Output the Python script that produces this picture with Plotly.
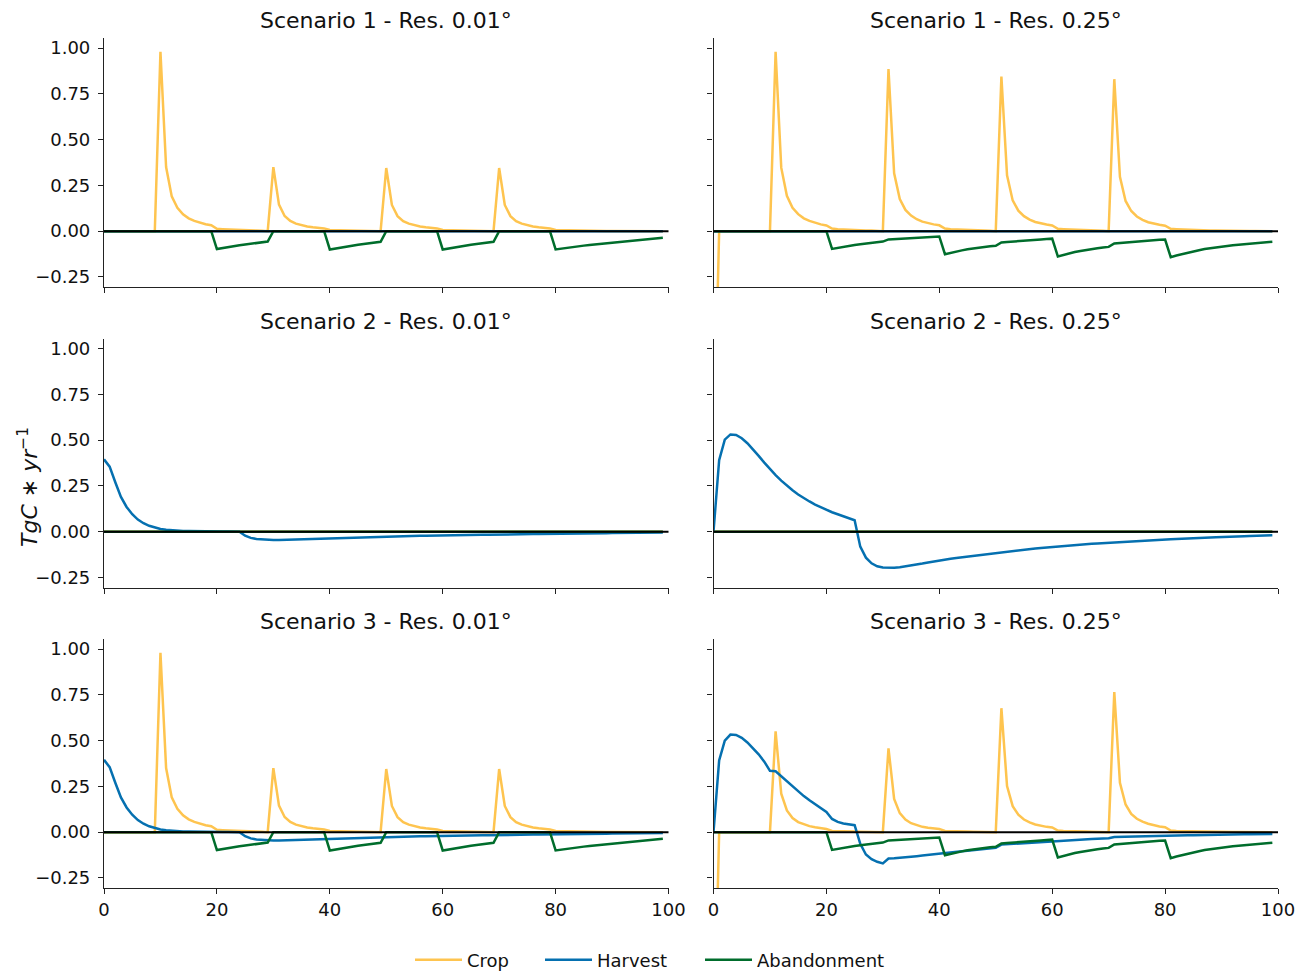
import plotly.graph_objects as go
from plotly.subplots import make_subplots

# ---------------- data ----------------
years = list(range(100))

zeros = [0.0] * 100

crop_s1_fine = [
    0, 0, 0, 0, 0, 0, 0, 0, 0, 0,
    0.98, 0.35, 0.19, 0.128, 0.092, 0.07, 0.056, 0.046, 0.038, 0.032,
    0.013, 0.011, 0.009, 0.008, 0.006, 0.005, 0.004, 0.003, 0.002, 0.0,
    0.35, 0.145, 0.083, 0.056, 0.041, 0.032, 0.026, 0.021, 0.018, 0.015,
    0.006, 0.005, 0.004, 0.004, 0.003, 0.003, 0.002, 0.002, 0.001, 0.0,
    0.345, 0.143, 0.082, 0.055, 0.041, 0.032, 0.026, 0.021, 0.018, 0.015,
    0.006, 0.005, 0.004, 0.004, 0.003, 0.003, 0.002, 0.002, 0.001, 0.0,
    0.345, 0.143, 0.082, 0.055, 0.041, 0.032, 0.026, 0.021, 0.018, 0.015,
    0.006, 0.005, 0.004, 0.004, 0.003, 0.003, 0.002, 0.002, 0.002, 0.001,
    0.001, 0.001, 0.001, 0.001, 0.0, 0.0, 0.0, 0.0, 0.0, 0.0,
]

abandon_s1_fine = [
    0, 0, 0, 0, 0, 0, 0, 0, 0, 0,
    0, 0, 0, 0, 0, 0, 0, 0, 0, 0,
    -0.098, -0.092, -0.087, -0.082, -0.077, -0.073, -0.069, -0.065, -0.061, -0.057,
    0, 0, 0, 0, 0, 0, 0, 0, 0, 0,
    -0.100, -0.094, -0.088, -0.083, -0.078, -0.074, -0.070, -0.066, -0.062, -0.058,
    0, 0, 0, 0, 0, 0, 0, 0, 0, 0,
    -0.100, -0.094, -0.088, -0.083, -0.078, -0.074, -0.070, -0.066, -0.062, -0.058,
    0, 0, 0, 0, 0, 0, 0, 0, 0, 0,
    -0.100, -0.095, -0.091, -0.087, -0.083, -0.079, -0.075, -0.072, -0.069, -0.066,
    -0.063, -0.060, -0.057, -0.054, -0.051, -0.048, -0.045, -0.042, -0.039, -0.036,
]

crop_s1_coarse = [
    -1.3, 0, 0, 0, 0, 0, 0, 0, 0, 0,
    0, 0.98, 0.347, 0.193, 0.128, 0.093, 0.07, 0.056, 0.045, 0.037,
    0.031, 0.014, 0.011, 0.009, 0.007, 0.006, 0.005, 0.004, 0.003, 0.002,
    0.0, 0.885, 0.316, 0.175, 0.116, 0.085, 0.065, 0.052, 0.043, 0.037,
    0.032, 0.014, 0.011, 0.009, 0.007, 0.006, 0.005, 0.004, 0.003, 0.002,
    0.0, 0.845, 0.305, 0.168, 0.112, 0.082, 0.063, 0.05, 0.042, 0.036,
    0.031, 0.013, 0.011, 0.009, 0.007, 0.006, 0.005, 0.004, 0.003, 0.002,
    0.0, 0.83, 0.297, 0.165, 0.11, 0.08, 0.062, 0.049, 0.041, 0.035,
    0.03, 0.013, 0.011, 0.009, 0.007, 0.006, 0.005, 0.004, 0.003, 0.003,
    0.002, 0.002, 0.002, 0.001, 0.001, 0.001, 0.001, 0.0, 0.0, 0.0,
]

abandon_s1_coarse = [
    0, 0, 0, 0, 0, 0, 0, 0, 0, 0,
    0, 0, 0, 0, 0, 0, 0, 0, 0, 0,
    0.0, -0.097, -0.091, -0.085, -0.080, -0.076, -0.072, -0.068, -0.064, -0.061,
    -0.057, -0.045, -0.043, -0.041, -0.039, -0.037, -0.035, -0.034, -0.032, -0.031,
    -0.029, -0.126, -0.118, -0.111, -0.105, -0.099, -0.094, -0.090, -0.086, -0.083,
    -0.080, -0.062, -0.059, -0.056, -0.054, -0.051, -0.049, -0.047, -0.045, -0.043,
    -0.041, -0.138, -0.129, -0.121, -0.114, -0.108, -0.102, -0.097, -0.093, -0.089,
    -0.086, -0.067, -0.064, -0.061, -0.058, -0.055, -0.053, -0.051, -0.049, -0.047,
    -0.046, -0.142, -0.133, -0.125, -0.117, -0.110, -0.104, -0.098, -0.093, -0.089,
    -0.085, -0.081, -0.077, -0.074, -0.071, -0.068, -0.065, -0.063, -0.060, -0.058,
]

harvest_s2_fine = [
    0.395, 0.355, 0.27, 0.19, 0.135, 0.095, 0.066, 0.046, 0.032, 0.022,
    0.015, 0.010, 0.007, 0.005, 0.004, 0.003, 0.002, 0.002, 0.001, 0.001,
    0.001, 0.001, 0.001, 0.001, 0.0, -0.022, -0.034, -0.040, -0.043, -0.045,
    -0.045, -0.045, -0.044, -0.044, -0.043, -0.042, -0.041, -0.040, -0.039, -0.038,
    -0.037, -0.036, -0.035, -0.034, -0.033, -0.032, -0.031, -0.030, -0.030, -0.029,
    -0.028, -0.027, -0.026, -0.026, -0.025, -0.024, -0.023, -0.023, -0.022, -0.021,
    -0.021, -0.020, -0.020, -0.019, -0.019, -0.018, -0.018, -0.017, -0.017, -0.016,
    -0.016, -0.015, -0.015, -0.015, -0.014, -0.014, -0.013, -0.013, -0.013, -0.012,
    -0.012, -0.012, -0.011, -0.011, -0.010, -0.010, -0.010, -0.009, -0.009, -0.009,
    -0.008, -0.008, -0.008, -0.007, -0.007, -0.007, -0.006, -0.006, -0.006, -0.005,
]

harvest_s2_coarse = [
    0.0, 0.39, 0.503, 0.531, 0.528, 0.51, 0.483, 0.45, 0.414, 0.377,
    0.342, 0.309, 0.279, 0.251, 0.226, 0.203, 0.183, 0.165, 0.148, 0.133,
    0.119, 0.106, 0.095, 0.084, 0.074, 0.062, -0.082, -0.142, -0.173, -0.189,
    -0.196, -0.198, -0.197, -0.194, -0.190, -0.185, -0.180, -0.174, -0.168, -0.162,
    -0.156, -0.152, -0.148, -0.144, -0.140, -0.136, -0.132, -0.128, -0.124, -0.120,
    -0.116, -0.112, -0.109, -0.105, -0.102, -0.098, -0.095, -0.092, -0.089, -0.086,
    -0.083, -0.080, -0.077, -0.075, -0.072, -0.070, -0.068, -0.066, -0.064, -0.062,
    -0.060, -0.058, -0.056, -0.054, -0.052, -0.051, -0.049, -0.048, -0.046, -0.045,
    -0.043, -0.041, -0.040, -0.038, -0.037, -0.036, -0.034, -0.033, -0.032, -0.031,
    -0.029, -0.028, -0.027, -0.026, -0.025, -0.024, -0.023, -0.021, -0.020, -0.019,
]

crop_s3_coarse = [
    -1.3, 0, 0, 0, 0, 0, 0, 0, 0, 0,
    0, 0.551, 0.21, 0.119, 0.077, 0.055, 0.042, 0.033, 0.027, 0.022,
    0.017, 0.007, 0.005, 0.004, 0.003, 0.003, 0.002, 0.002, 0.001, 0.001,
    0.0, 0.458, 0.182, 0.104, 0.069, 0.049, 0.037, 0.029, 0.024, 0.020,
    0.017, 0.007, 0.005, 0.004, 0.003, 0.003, 0.002, 0.002, 0.001, 0.001,
    0.0, 0.677, 0.252, 0.142, 0.095, 0.069, 0.053, 0.042, 0.035, 0.029,
    0.026, 0.009, 0.007, 0.005, 0.004, 0.003, 0.003, 0.002, 0.002, 0.001,
    0.0, 0.765, 0.27, 0.151, 0.1, 0.073, 0.057, 0.046, 0.037, 0.031,
    0.027, 0.009, 0.007, 0.006, 0.005, 0.004, 0.003, 0.003, 0.002, 0.002,
    0.002, 0.001, 0.001, 0.001, 0.001, 0.001, 0.0, 0.0, 0.0, 0.0,
]

harvest_s3_coarse = [
    0.0, 0.392, 0.50, 0.533, 0.531, 0.515, 0.49, 0.46, 0.425, 0.385,
    0.335, 0.333, 0.305, 0.278, 0.251, 0.222, 0.197, 0.174, 0.152, 0.13,
    0.11, 0.072, 0.056, 0.047, 0.042, 0.038, -0.064, -0.122, -0.148, -0.162,
    -0.171, -0.144, -0.143, -0.141, -0.138, -0.135, -0.131, -0.128, -0.124, -0.120,
    -0.116, -0.113, -0.110, -0.107, -0.104, -0.101, -0.098, -0.095, -0.092, -0.089,
    -0.085, -0.068, -0.066, -0.064, -0.062, -0.060, -0.058, -0.056, -0.054, -0.052,
    -0.050, -0.046, -0.045, -0.043, -0.042, -0.040, -0.039, -0.037, -0.036, -0.035,
    -0.033, -0.026, -0.025, -0.024, -0.024, -0.023, -0.022, -0.021, -0.021, -0.020,
    -0.019, -0.019, -0.018, -0.018, -0.017, -0.017, -0.016, -0.016, -0.015, -0.015,
    -0.014, -0.014, -0.013, -0.013, -0.012, -0.012, -0.011, -0.011, -0.010, -0.010,
]

titles = [
    "Scenario 1 - Res. 0.01°", "Scenario 1 - Res. 0.25°",
    "Scenario 2 - Res. 0.01°", "Scenario 2 - Res. 0.25°",
    "Scenario 3 - Res. 0.01°", "Scenario 3 - Res. 0.25°",
]

series_names = ["Crop", "Harvest", "Abandonment"]
panels = {
    (1, 1): (crop_s1_fine, zeros, abandon_s1_fine),
    (1, 2): (crop_s1_coarse, zeros, abandon_s1_coarse),
    (2, 1): (zeros, harvest_s2_fine, zeros),
    (2, 2): (zeros, harvest_s2_coarse, zeros),
    (3, 1): (crop_s1_fine, harvest_s2_fine, abandon_s1_fine),
    (3, 2): (crop_s3_coarse, harvest_s3_coarse, abandon_s1_coarse),
}

y_ticks = [-0.25, 0.0, 0.25, 0.5, 0.75, 1.0]
x_ticks = [0, 20, 40, 60, 80, 100]
zero_level = 0.0

# ---------------- style ----------------
colors = {"Crop": "#fec44f", "Harvest": "#0570b0", "Abandonment": "#006d2c"}
FONT = "DejaVu Sans"
OFF = 8  # default page body margin
W, H = 1309 - OFF, 974 - OFF
ML, MT = 104 - OFF, 38 - OFF
MR = W - (1278 - OFF)
MB = H - (888 - OFF)
PW, PH = W - ML - MR, H - MT - MB


def px_x(page_x):
    return (page_x - OFF - ML) / PW


def px_y(page_y):
    return (H - MB - (page_y - OFF)) / PH


legend_ids = {"Crop": "legend", "Harvest": "legend2", "Abandonment": "legend3"}
legend_left = {"Crop": 410, "Harvest": 540, "Abandonment": 700}

fig = make_subplots(rows=3, cols=2,
                    horizontal_spacing=45 / PW,
                    vertical_spacing=51.5 / PH)

first = True
for (r, c), arrs in panels.items():
    for name, vals in zip(series_names, arrs):
        fig.add_trace(go.Scatter(
            x=years, y=vals, mode="lines", name=name,
            line=dict(color=colors[name], width=2.5),
            showlegend=first, legendgroup=name, legend=legend_ids[name],
        ), row=r, col=c)
    first = False
    fig.add_hline(y=zero_level, row=r, col=c,
                  line=dict(color="black", width=2))

tickfont = dict(family=FONT, size=18, color="#111")
for r in range(1, 4):
    for c in range(1, 3):
        fig.update_xaxes(row=r, col=c, range=[0, 100], tickvals=x_ticks,
                         showticklabels=(r == 3), showline=True,
                         linecolor="#222", linewidth=1.2, ticks="outside",
                         ticklen=5, tickwidth=1.2, tickcolor="#222", showgrid=False,
                         zeroline=False, tickfont=tickfont, automargin=False,
                         ticklabelstandoff=0)
        fig.update_yaxes(row=r, col=c, range=[-0.305, 1.055], tickvals=y_ticks,
                         tickformat=".2f", showticklabels=(c == 1),
                         showline=True, linecolor="#222", linewidth=1.2,
                         ticks="outside", ticklen=5, tickwidth=1.2, tickcolor="#222",
                         showgrid=False, zeroline=False, tickfont=tickfont,
                         automargin=False, ticklabelstandoff=4)

# subplot titles
annotations = []
idx = 0
for r in range(1, 4):
    for c in range(1, 3):
        xa = fig.get_subplot(r, c).xaxis.domain
        ya = fig.get_subplot(r, c).yaxis.domain
        annotations.append(dict(
            text=titles[idx], x=(xa[0] + xa[1]) / 2, y=ya[1],
            xref="paper", yref="paper", xanchor="center", yanchor="bottom",
            yshift=3, showarrow=False,
            font=dict(family=FONT, size=22, color="#111")))
        idx += 1

annotations.append(dict(
    text="<i>TgC</i> ∗ <i>yr</i><sup>−1</sup>",
    x=px_x(28), y=px_y(487),
    xref="paper", yref="paper", xanchor="center", yanchor="middle",
    textangle=-90, showarrow=False,
    font=dict(family=FONT, size=22, color="#111")))

legend_common = dict(orientation="h", xanchor="left", yanchor="middle",
                     y=px_y(960), font=dict(family=FONT, size=18, color="#111"),
                     bgcolor="rgba(0,0,0,0)", itemwidth=47)

fig.update_layout(
    width=W, height=H,
    margin=dict(l=ML, r=MR, t=MT, b=MB, autoexpand=False),
    paper_bgcolor="white", plot_bgcolor="white",
    annotations=annotations,
    font=dict(family=FONT, size=18, color="#111"),
    legend=dict(x=px_x(legend_left["Crop"]), **legend_common),
    legend2=dict(x=px_x(legend_left["Harvest"]), **legend_common),
    legend3=dict(x=px_x(legend_left["Abandonment"]), **legend_common),
)

fig.write_html("out.html")
